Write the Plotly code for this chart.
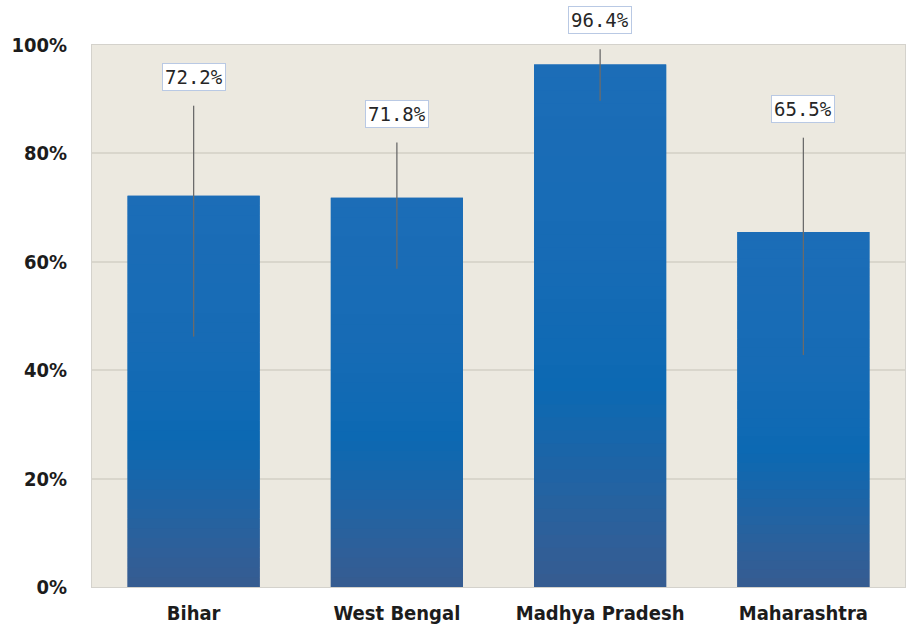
import plotly.graph_objects as go

# Share of respondents by state, with confidence interval bounds (%)
states = ["Bihar", "West Bengal", "Madhya Pradesh", "Maharashtra"]
shares = [72.2, 71.8, 96.4, 65.5]
ci_high = [88.8, 82.0, 99.2, 82.9]
ci_low = [46.2, 58.7, 89.7, 42.8]
y_ticks = [0, 20, 40, 60, 80, 100]
y_tick_text = ["0%", "20%", "40%", "60%", "80%", "100%"]

err_plus = [h - v for h, v in zip(ci_high, shares)]
err_minus = [v - l for l, v in zip(ci_low, shares)]

# vertical gradient stops (fraction of bar height -> rgb)
stops = [(0.0, (54, 92, 144)), (0.08, (48, 95, 152)), (0.38, (12, 105, 179)),
         (0.6, (22, 107, 181)), (1.0, (28, 109, 183))]


def grad_color(f):
    f = max(0.0, min(1.0, f))
    for (f0, c0), (f1, c1) in zip(stops[:-1], stops[1:]):
        if f0 <= f <= f1:
            t = (f - f0) / (f1 - f0)
            c = [round(a + (b - a) * t) for a, b in zip(c0, c1)]
            return "rgb({},{},{})".format(*c)
    return "rgb({},{},{})".format(*stops[-1][1])


fig = go.Figure()

# each bar is built from thin bands shaded bottom-to-top; every band spans
# two slots so the whole column is covered by exactly two layers
N = 40
for k in range(-1, N):
    lo = k / N
    hi = min(k + 2, N) / N
    fig.add_trace(go.Bar(
        x=states,
        base=[v * lo for v in shares],
        y=[v * (hi - lo) for v in shares],
        marker=dict(color=grad_color((k + 0.5) / N), line=dict(width=0)),
        hoverinfo="skip",
        showlegend=False,
    ))

# transparent full-height bar carrying the interval whiskers
fig.add_trace(go.Bar(
    x=states,
    y=shares,
    marker=dict(color="rgba(0,0,0,0)", line=dict(width=0)),
    error_y=dict(type="data", symmetric=False, array=err_plus,
                 arrayminus=err_minus, color="#6b6b6b", thickness=1.3, width=0),
    hoverinfo="skip",
    showlegend=False,
))

for s, v, h in zip(states, shares, ci_high):
    fig.add_annotation(
        x=s, y=h, text=f"{v:.1f}%", showarrow=False,
        yanchor="bottom", yshift=15,
        font=dict(family="DejaVu Sans Mono", size=19, color="#262626"),
        bgcolor="#ffffff", bordercolor="#b9c9e4", borderwidth=1, borderpad=2,
    )

tick_font = dict(family="DejaVu Sans Condensed", size=20, color="#1c1c1c",
                 weight="bold")

fig.update_layout(
    width=909, height=626,
    margin=dict(l=92, r=4, t=45, b=39),
    paper_bgcolor="#ffffff",
    plot_bgcolor="#ece9e0",
    barmode="overlay",
    bargap=0.35,
    showlegend=False,
    xaxis=dict(
        showgrid=False, showline=True, linecolor="#d4d2cc", linewidth=1,
        mirror=True, tickfont=tick_font, ticks="", ticklabelstandoff=8,
        automargin=False,
    ),
    yaxis=dict(
        range=[0, 100], tickvals=y_ticks, ticktext=y_tick_text,
        showgrid=True, gridcolor="#d9d6cc", gridwidth=2,
        zeroline=False, showline=True, linecolor="#d4d2cc", linewidth=1,
        mirror=True, tickfont=tick_font, ticks="", ticklabelstandoff=20,
        automargin=False,
    ),
)

fig.write_html("out.html")
